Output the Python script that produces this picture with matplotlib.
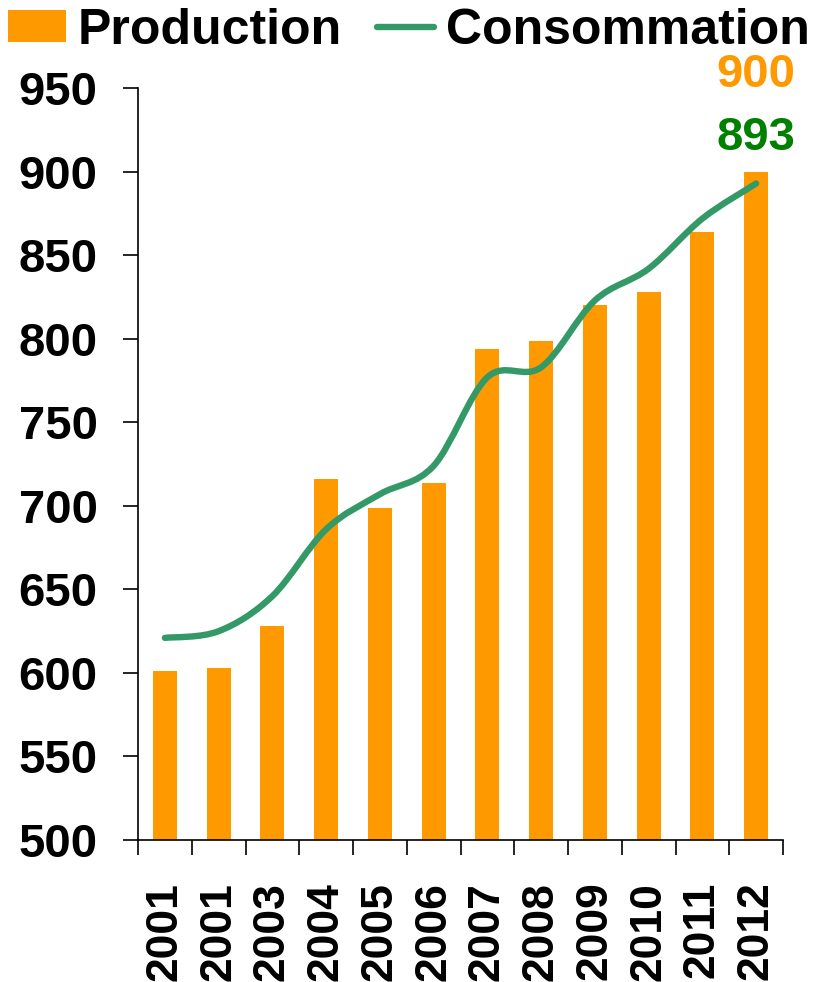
import matplotlib.pyplot as plt
from matplotlib.path import Path
from matplotlib.patches import PathPatch, Patch
from matplotlib.lines import Line2D

plt.rcParams['font.family'] = ['Liberation Sans', 'DejaVu Sans']
plt.rcParams['font.weight'] = 'bold'

years = ['2001', '2001', '2003', '2004', '2005', '2006',
         '2007', '2008', '2009', '2010', '2011', '2012']
production = [601, 603, 628, 716, 699, 714, 794, 799, 820, 828, 864, 900]
consommation = [621, 625, 646, 686, 707, 724, 777, 783, 823, 842, 872, 893]

bar_color = '#FF9900'
line_color = '#339966'


def smooth_path(xs, ys):
    # Catmull-Rom style bezier, like the spreadsheet "smoothed line"
    pts = list(zip(xs, ys))
    verts = [pts[0]]
    codes = [Path.MOVETO]
    n = len(pts)
    for i in range(n - 1):
        p0 = pts[i - 1] if i > 0 else pts[i]
        p1 = pts[i]
        p2 = pts[i + 1]
        p3 = pts[i + 2] if i + 2 < n else pts[i + 1]
        c1 = (p1[0] + (p2[0] - p0[0]) / 6, p1[1] + (p2[1] - p0[1]) / 6)
        c2 = (p2[0] - (p3[0] - p1[0]) / 6, p2[1] - (p3[1] - p1[1]) / 6)
        verts += [c1, c2, p2]
        codes += [Path.CURVE4] * 3
    return Path(verts, codes)


fig = plt.figure(figsize=(8.2, 9.82), dpi=100)
ax = fig.add_axes([0.1683, 0.1446, 0.7866, 0.7655])

x = list(range(len(years)))
ax.bar(x, production, width=0.45, color=bar_color, zorder=2)
ax.add_patch(PathPatch(smooth_path(x, consommation), fill=False,
                       edgecolor=line_color, lw=4.6, capstyle='round', zorder=3))

ax.set_xlim(-0.5, len(years) - 0.5)
ax.set_ylim(500, 950)
ax.set_yticks(range(500, 951, 50))
ax.tick_params(axis='y', direction='out', length=11, width=1.2, labelsize=34, pad=18)

ax.set_xticks([i - 0.5 for i in range(len(years) + 1)])
ax.set_xticklabels([])
ax.set_xticks(x, minor=True)
ax.set_xticklabels(years, minor=True, rotation=90, fontsize=32, fontweight='bold')
ax.tick_params(axis='x', which='major', direction='out', length=11, width=1.2)
ax.tick_params(axis='x', which='minor', length=0, pad=30)
for lab in ax.get_yticklabels():
    lab.set_fontweight('bold')

for side in ['top', 'right']:
    ax.spines[side].set_visible(False)
for side in ['left', 'bottom']:
    ax.spines[side].set_linewidth(1.2)

ax.annotate(str(production[-1]), (x[-1], production[-1]), xytext=(0, 70),
            textcoords='offset points', ha='center', va='center',
            fontsize=34, fontweight='bold', color=bar_color)
ax.annotate(str(consommation[-1]), (x[-1], consommation[-1]), xytext=(0, 33),
            textcoords='offset points', ha='center', va='center',
            fontsize=34, fontweight='bold', color='#008000')

handles = [Patch(facecolor=bar_color, edgecolor='none'),
           Line2D([0], [0], color=line_color, lw=4.6, solid_capstyle='round')]
fig.legend(handles, ['Production', 'Consommation'], loc='upper left',
           bbox_to_anchor=(0.01, 0.992), ncol=2, frameon=False,
           prop={'size': 36, 'weight': 'bold'}, handlelength=1.15,
           handleheight=0.62, handletextpad=0.24, columnspacing=0.7,
           borderpad=0, borderaxespad=0)

fig.savefig('out.png', dpi=100)
